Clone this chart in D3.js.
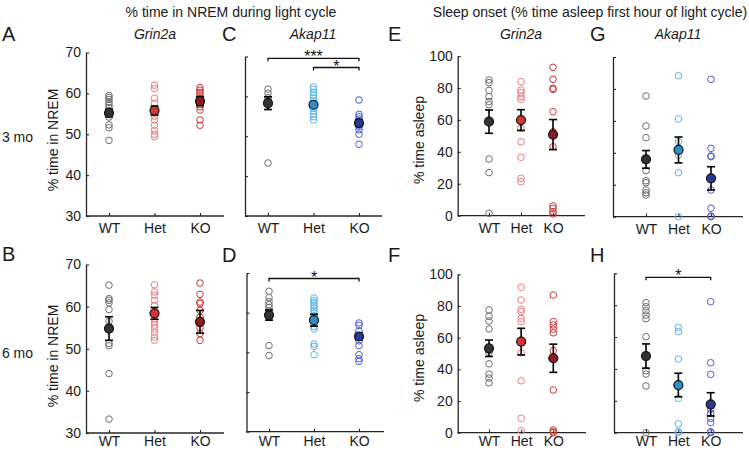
<!DOCTYPE html>
<html>
<head>
<meta charset="utf-8">
<script src="https://cdn.jsdelivr.net/npm/d3@7"></script>
<style>
  html, body { margin: 0; padding: 0; background: #fff; }
  svg { display: block; font-family: "Liberation Sans", Arial, sans-serif; }
</style>
</head>
<body>
<svg id="chart" width="749" height="450"></svg>
<script>
// ---------- data ----------
const groups = ["WT", "Het", "KO"];
const nremTicks = [30, 40, 50, 60, 70];
const asleepTicks = [0, 20, 40, 60, 80, 100];

// A: % time in NREM, Grin2a, 3 mo
const aWT  = [59.5, 59.0, 58.5, 57.8, 57.2, 56.5, 55.8, 55.3, 54.8, 54.2, 52.3, 51.6, 48.5];
const aHet = [62.0, 61.2, 58.8, 57.6, 56.3, 55.5, 54.4, 53.5, 52.2, 51.0, 50.0, 49.4];
const aKO  = [61.4, 60.8, 60.2, 59.6, 58.9, 58.3, 57.3, 56.7, 55.9, 53.5, 52.2];
const aMean = [55.2, 55.8, 58.1];
const aSem  = [0.9, 1.1, 1.1];

// B: % time in NREM, Grin2a, 6 mo
const bWT  = [65.1, 61.9, 61.5, 60.9, 59.3, 56.5, 51.3, 50.7, 44.1, 33.3];
const bHet = [65.2, 63.5, 62.7, 61.5, 60.3, 58.4, 57.2, 56.4, 55.6, 54.8, 53.9, 52.8, 52.0];
const bKO  = [65.6, 62.9, 61.1, 60.7, 59.1, 57.5, 56.0, 55.0, 53.6, 52.0];
const bMean = [54.8, 58.4, 56.4];
const bSem  = [2.8, 1.4, 2.7];

// C: % time in NREM, Akap11, 3 mo
const cWT  = [61.8, 60.8, 59.7, 59.0, 58.5, 57.8, 43.3];
const cHet = [62.4, 61.8, 61.0, 60.3, 59.6, 58.9, 58.2, 57.6, 57.0, 56.3, 55.6, 54.9, 54.1];
const cKO  = [59.1, 55.5, 54.9, 54.3, 53.6, 52.8, 52.4, 51.6, 50.5, 48.0];
const cMean = [58.3, 57.9, 53.3];
const cSem  = [1.6, 0.6, 0.8];

// D: % time in NREM, Akap11, 6 mo
const dWT  = [65.4, 63.8, 62.8, 62.0, 61.3, 60.4, 58.8, 51.7, 49.2];
const dHet = [63.7, 63.0, 62.5, 61.8, 61.2, 60.5, 59.9, 59.2, 57.4, 56.5, 55.9, 52.1, 51.5, 49.4];
const dKO  = [57.4, 56.8, 55.4, 54.0, 52.9, 51.7, 49.4, 48.4, 47.7];
const dMean = [59.4, 58.1, 54.0];
const dSem  = [1.3, 1.5, 0.8];

// E: % time asleep, Grin2a, 3 mo
const eWT  = [85.0, 83.3, 78.5, 74.5, 71.5, 69.5, 35.5, 27.0, 1.5];
const eHet = [83.9, 78.7, 77.0, 74.5, 72.9, 54.7, 46.3, 36.6, 23.4, 21.3];
const eKO  = [92.9, 85.4, 79.8, 79.1, 65.1, 52.6, 43.2, 6.1, 4.6, 2.5, 1.1];
const eMean = [58.9, 59.9, 50.8];
const eSem  = [7.3, 6.5, 9.4];

// F: % time asleep, Grin2a, 6 mo
const fWT  = [77.5, 73.5, 70.5, 65.5, 52.0, 50.5, 43.5, 37.0, 34.5, 31.5];
const fHet = [91.8, 83.8, 77.9, 76.4, 72.2, 70.1, 50.5, 32.8, 9.1, 1.3];
const fKO  = [86.9, 70.1, 68.0, 65.3, 63.1, 51.8, 27.0, 1.7, 0.6, 0.0];
const fMean = [53.3, 57.5, 47.0];
const fSem  = [5.2, 8.4, 8.9];

// G: % time asleep, Akap11, 3 mo
const gWT  = [75.6, 56.8, 49.5, 28.8, 22.5, 21.3, 16.7, 15.0, 13.6];
const gHet = [88.3, 61.2, 47.0, 38.6, 27.6, 0.0];
const gKO  = [86.0, 42.8, 38.0, 37.6, 16.7, 5.3, 0.4, 0.0];
const gMean = [35.9, 41.8, 24.0];
const gSem  = [5.5, 8.1, 7.3];

// H: % time asleep, Akap11, 6 mo
const hWT  = [81.6, 79.0, 76.5, 73.8, 71.5, 60.2, 38.9, 36.8, 29.3, 0.0];
const hHet = [66.1, 63.4, 46.2, 21.6, 5.5, 0.6, 0.0];
const hKO  = [82.2, 43.9, 36.6, 14.7, 12.2, 9.0, 6.3, 0.6, 0.0];
const hMean = [48.1, 29.9, 17.8];
const hSem  = [7.6, 7.4, 7.3];

// significance brackets: [fromGroup, toGroup, label]
const cSig = [["WT", "KO", "***"], ["Het", "KO", "*"]];
const dSig = [["WT", "KO", "*"]];
const hSig = [["WT", "KO", "*"]];

// ---------- styles ----------
const palette = {
  grin: { WT: "#6e6e6e", Het: "#f07b7b", KO: "#c63a3a" },
  akap: { WT: "#6e6e6e", Het: "#58b3e8", KO: "#4d5ed4" }
};
const meanFill = {
  grin: { WT: "#333333", Het: "#d83434", KO: "#8a1c1c" },
  akap: { WT: "#333333", Het: "#2e8fc6", KO: "#283894" }
};
const axisColor = "#262626";

// ---------- layout ----------
const panels = [
  { data: [aWT, aHet, aKO], mean: aMean, sem: aSem, gene: "grin", domain: [30, 70], ticks: nremTicks, labels: true,
    x0: 86, x1: 224, cx: [109, 200], yTop: 52.5, yBot: 216, ylabel: "% time in NREM", ylx: 53, yly: 140, sig: [], xpad: 7 },
  { data: [bWT, bHet, bKO], mean: bMean, sem: bSem, gene: "grin", domain: [30, 70], ticks: nremTicks, labels: true,
    x0: 86, x1: 224, cx: [109, 200], yTop: 264.5, yBot: 433, ylabel: "% time in NREM", ylx: 53, yly: 356, sig: [], xpad: 3.5 },
  { data: [cWT, cHet, cKO], mean: cMean, sem: cSem, gene: "akap", domain: [30, 70], ticks: nremTicks, labels: false,
    x0: 245, x1: 382, cx: [268, 359], yTop: 56.5, yBot: 216, sig: cSig, sigY: [58.3, 67.5], xpad: 7 },
  { data: [dWT, dHet, dKO], mean: dMean, sem: dSem, gene: "akap", domain: [30, 70], ticks: nremTicks, labels: false,
    x0: 246.5, x1: 384, cx: [269, 359], yTop: 273, yBot: 431.7, sig: dSig, sigY: [278.5], xpad: 4.5 },
  { data: [eWT, eHet, eKO], mean: eMean, sem: eSem, gene: "grin", domain: [0, 100], ticks: asleepTicks, labels: true,
    x0: 457.7, x1: 585, cx: [489, 553], yTop: 56, yBot: 215.7, ylabel: "% time asleep", ylx: 419, yly: 140, sig: [], xpad: 7 },
  { data: [fWT, fHet, fKO], mean: fMean, sem: fSem, gene: "grin", domain: [0, 100], ticks: asleepTicks, labels: true,
    x0: 457.7, x1: 586, cx: [489, 553.3], yTop: 274.3, yBot: 432.7, ylabel: "% time asleep", ylx: 419, yly: 358, sig: [], xpad: 3.5 },
  { data: [gWT, gHet, gKO], mean: gMean, sem: gSem, gene: "akap", domain: [0, 100], ticks: asleepTicks, labels: false,
    x0: 613, x1: 743, cx: [646, 711], yTop: 57, yBot: 216.7, sig: [], xpad: 7 },
  { data: [hWT, hHet, hKO], mean: hMean, sem: hSem, gene: "akap", domain: [0, 100], ticks: asleepTicks, labels: false,
    x0: 614, x1: 743, cx: [646, 710.7], yTop: 273.3, yBot: 432.7, sig: hSig, sigY: [277.3], xpad: 3.5 }
];

const svg = d3.select("#chart");

panels.forEach(p => {
  const g = svg.append("g");
  const y = d3.scaleLinear().domain(p.domain).range([p.yBot, p.yTop]);
  const x = d3.scalePoint().domain(groups).range(p.cx);

  // y axis
  const yAxis = d3.axisLeft(y).tickValues(p.ticks).tickSizeInner(-3).tickSizeOuter(0).tickPadding(5);
  if (!p.labels) yAxis.tickFormat("");
  const ya = g.append("g").attr("transform", `translate(${p.x0},0)`).call(yAxis);
  ya.select(".domain").attr("stroke", axisColor).attr("stroke-width", 1.3);
  ya.selectAll(".tick line").attr("stroke", axisColor).attr("stroke-width", 1.1);
  ya.selectAll(".tick text").attr("fill", "#1a1a1a").style("font-size", "14px");

  // x axis
  const xAxis = d3.axisBottom(x).tickSizeInner(-3).tickSizeOuter(0).tickPadding(p.xpad);
  const xa = g.append("g").attr("transform", `translate(0,${p.yBot})`).call(xAxis);
  xa.select(".domain").remove();
  xa.append("line").attr("x1", p.x0).attr("x2", p.x1).attr("y1", 0).attr("y2", 0)
    .attr("stroke", axisColor).attr("stroke-width", 1.3);
  xa.selectAll(".tick line").attr("stroke", axisColor).attr("stroke-width", 1.1);
  xa.selectAll(".tick text").attr("fill", "#1a1a1a").style("font-size", "14px");

  // y label
  if (p.ylabel) {
    g.append("text").attr("transform", `translate(${p.ylx},${p.yly}) rotate(-90)`)
      .attr("text-anchor", "middle").attr("dominant-baseline", "central")
      .style("font-size", "14px").attr("fill", "#1a1a1a").text(p.ylabel);
  }

  // individual points
  groups.forEach((grp, i) => {
    g.append("g").selectAll("circle").data(p.data[i]).join("circle")
      .attr("cx", x(grp)).attr("cy", d => y(d)).attr("r", 3.3)
      .attr("fill", "none").attr("stroke", palette[p.gene][grp]).attr("stroke-width", 1);
  });

  // error bars + means
  groups.forEach((grp, i) => {
    const cx = x(grp), m = p.mean[i], s = p.sem[i];
    const eg = g.append("g").attr("stroke", "#000").attr("stroke-width", 1.6);
    eg.append("line").attr("x1", cx).attr("x2", cx).attr("y1", y(m - s)).attr("y2", y(m + s));
    eg.append("line").attr("x1", cx - 4).attr("x2", cx + 4).attr("y1", y(m + s)).attr("y2", y(m + s));
    eg.append("line").attr("x1", cx - 4).attr("x2", cx + 4).attr("y1", y(m - s)).attr("y2", y(m - s));
    g.append("circle").attr("cx", cx).attr("cy", y(m)).attr("r", 4.5)
      .attr("fill", meanFill[p.gene][grp]).attr("stroke", "#111").attr("stroke-width", 1.2);
  });

  // significance brackets
  p.sig.forEach((s, k) => {
    const xa1 = x(s[0]), xa2 = x(s[1]), by = p.sigY[k];
    g.append("path")
      .attr("d", `M${xa1},${by + 3}V${by}H${xa2}V${by + 3}`)
      .attr("fill", "none").attr("stroke", "#111").attr("stroke-width", 1.3);
    g.append("text").attr("x", (xa1 + xa2) / 2).attr("y", by + 4)
      .attr("text-anchor", "middle").style("font-size", "16px").attr("fill", "#111").text(s[2]);
  });
});

// ---------- titles & annotations ----------
const texts = [
  { t: "% time in NREM during light cycle", x: 231, y: 12, size: 14, anchor: "middle" },
  { t: "Sleep onset (% time asleep first hour of light cycle)", x: 590, y: 12, size: 14, anchor: "middle" },
  { t: "Grin2a", x: 155, y: 34, size: 14, anchor: "middle", italic: true },
  { t: "Akap11", x: 313, y: 34, size: 14, anchor: "middle", italic: true },
  { t: "Grin2a", x: 521, y: 34, size: 14, anchor: "middle", italic: true },
  { t: "Akap11", x: 678, y: 34, size: 14, anchor: "middle", italic: true },
  { t: "A", x: 2, y: 34, size: 20, anchor: "start" },
  { t: "C", x: 222, y: 34, size: 20, anchor: "start" },
  { t: "E", x: 388, y: 34, size: 20, anchor: "start" },
  { t: "G", x: 590, y: 34, size: 20, anchor: "start" },
  { t: "B", x: 2, y: 254, size: 20, anchor: "start" },
  { t: "D", x: 222, y: 255, size: 20, anchor: "start" },
  { t: "F", x: 388, y: 255, size: 20, anchor: "start" },
  { t: "H", x: 590, y: 255, size: 20, anchor: "start" },
  { t: "3 mo", x: 33, y: 137, size: 14, anchor: "end" },
  { t: "6 mo", x: 33, y: 353, size: 14, anchor: "end" }
];
svg.append("g").selectAll("text").data(texts).join("text")
  .attr("x", d => d.x).attr("y", d => d.y)
  .attr("text-anchor", d => d.anchor).attr("dominant-baseline", "central")
  .style("font-size", d => d.size + "px")
  .style("font-style", d => d.italic ? "italic" : "normal")
  .attr("fill", "#1a1a1a")
  .text(d => d.t);
</script>
</body>
</html>
